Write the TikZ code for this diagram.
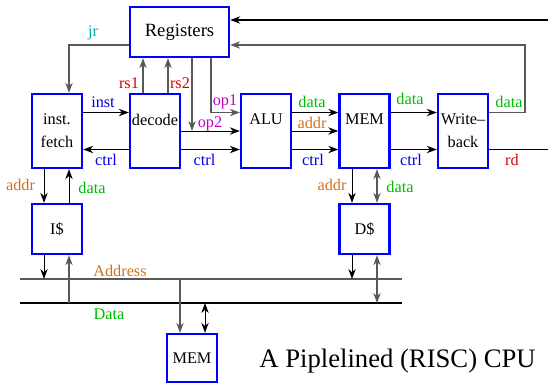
\documentclass[tikz,border=0pt]{standalone}
\usepackage{fontspec}
\setmainfont{Liberation Serif}
\usetikzlibrary{arrows.meta}
\definecolor{jrcyan}{RGB}{0,175,175}
\definecolor{regred}{RGB}{220,0,0}
\definecolor{opmag}{RGB}{190,0,190}
\definecolor{ctlblue}{RGB}{0,0,240}
\definecolor{datgreen}{RGB}{0,185,0}
\definecolor{adrorange}{RGB}{205,115,30}
\begin{document}
\begin{tikzpicture}[x=0.75pt,y=-0.75pt,
  box/.style={draw=blue,line width=1.8pt,inner sep=0pt,align=center,
    font=\fontsize{12.2}{17.25}\selectfont},
  stage/.style={box,minimum width=37.5pt,minimum height=55.5pt},
  cache/.style={box,minimum width=37.5pt,minimum height=37.5pt},
  lnk/.style={line width=0.75pt},
  arr/.style={lnk,-{Stealth[length=7.5pt,width=5.5pt]}},
  both/.style={lnk,{Stealth[length=7.5pt,width=5.5pt]}-{Stealth[length=7.5pt,width=5.5pt]}},
  dim/.style={draw=black!65,line width=1pt},
  lbl/.style={font=\fontsize{12.2}{14}\selectfont,inner sep=0pt}]
  \useasboundingbox (0,0) rectangle (548,383);
  \node[box,minimum width=74.25pt,minimum height=37.5pt,font=\fontsize{14}{16}\selectfont] (regs) at (179.5,32) {Registers};
  \node[stage] (fetch) at (57,131) {inst.\\fetch};
  \node[stage] (decode) at (155,131) {decode\\\mbox{}};
  \node[stage] (alu) at (266,131) {ALU\\\mbox{}};
  \node[stage] (mem) at (364.5,131) {MEM\\\mbox{}};
  \node[stage] (wb) at (463,131) {Write--\\back};
  \node[cache] (icache) at (57,229) {I\$};
  \node[cache] (dcache) at (364.5,229) {D\$};
  \node[box,minimum width=37.5pt,minimum height=36pt] (mainmem) at (192,358) {MEM};
  \node[font=\fontsize{20}{24}\selectfont,anchor=base] (title) at (397.5,367) {A Piplelined (RISC) CPU};

  \coordinate (topin) at (548,20);
  \coordinate (loop) at (525,45);
  \coordinate (rdout) at (548,149.5);
  \coordinate (addrL) at (20,279);
  \coordinate (addrR) at (402,279);
  \coordinate (dataL) at (20,303);
  \coordinate (dataR) at (402,303);
  \coordinate (rs1) at ([shift={(-12,0)}]decode.north);
  \coordinate (rs2) at ([shift={(13,0)}]decode.north);
  \coordinate (op1) at ([shift={(31.5,0)}]regs.south);
  \coordinate (op2) at ([shift={(12.5,0)}]regs.south);
  \coordinate (ia) at ([shift={(-13,0)}]icache.south);
  \coordinate (id) at ([shift={(12,0)}]icache.south);
  \coordinate (da) at ([shift={(-12.5,0)}]dcache.south);
  \coordinate (dd) at ([shift={(12.5,0)}]dcache.south);
  \coordinate (ma) at ([shift={(-12,0)}]mainmem.north);
  \coordinate (md) at ([shift={(13,0)}]mainmem.north);

  \draw[lnk,dim,line width=1.3pt] (addrL) -- (addrR);
  \draw[lnk,line width=1pt] (dataL) -- (dataR);

  \draw[arr,line width=1pt] (topin) -- (regs.east |- topin);
  \draw[arr,dim] ([shift={(0,-18.5)}]wb.east) -| (loop) -- (regs.east |- loop);
  \draw[lnk] ([shift={(0,18.5)}]wb.east) -- (rdout);
  \draw[arr,dim] ([shift={(0,13)}]regs.west) -| ([shift={(12,0)}]fetch.north);
  \draw[arr,dim] (rs1) -- (rs1 |- regs.south);
  \draw[arr,dim] (rs2) -- (rs2 |- regs.south);
  \draw[arr,dim] (op1) |- ([shift={(0,-18.5)}]alu.west);
  \draw[arr,dim] (op2) -- (op2 |- decode.east);

  \draw[arr] ([shift={(0,-18.5)}]fetch.east) -- ([shift={(0,-18.5)}]decode.west);
  \draw[arr] ([shift={(0,18.5)}]decode.west) -- ([shift={(0,18.5)}]fetch.east);
  \draw[arr] (decode.east) -- (alu.west);
  \draw[arr] ([shift={(0,18.5)}]decode.east) -- ([shift={(0,18.5)}]alu.west);
  \foreach \dy in {-18.5,0,18.5}
    \draw[arr] ([shift={(0,\dy)}]alu.east) -- ([shift={(0,\dy)}]mem.west);
  \foreach \dy in {-18.5,18.5}
    \draw[arr] ([shift={(0,\dy)}]mem.east) -- ([shift={(0,\dy)}]wb.west);

  \draw[arr] ([shift={(-13,0)}]fetch.south) -- ([shift={(-13,0)}]icache.north);
  \draw[arr] ([shift={(12,0)}]icache.north) -- ([shift={(12,0)}]fetch.south);
  \draw[arr] (ia) -- (ia |- addrL);
  \draw[arr,dim] (id |- dataL) -- (id);
  \draw[arr] ([shift={(-12.5,0)}]mem.south) -- ([shift={(-12.5,0)}]dcache.north);
  \draw[both,dim] ([shift={(12.5,0)}]mem.south) -- ([shift={(12.5,0)}]dcache.north);
  \draw[arr] (da) -- (da |- addrL);
  \draw[both,dim] (dd) -- (dd |- dataL);
  \draw[arr,dim] (ma |- addrL) -- (ma);
  \draw[both] (md |- dataL) -- (md);

  \node[lbl,text=jrcyan] (jrlbl) at (93,33) {jr};
  \node[lbl,text=regred] (rs1lbl) at (129,83) {rs1};
  \node[lbl,text=regred] (rs2lbl) at (180,83) {rs2};
  \node[lbl,text=opmag] (op1lbl) at (225,102) {op1};
  \node[lbl,text=opmag] (op2lbl) at (210,124) {op2};
  \node[lbl,text=ctlblue] (instlbl) at (103,102) {inst};
  \node[lbl,text=ctlblue] (ctrla) at (106,160) {ctrl};
  \node[lbl,text=ctlblue] (ctrlb) at (204.5,160) {ctrl};
  \node[lbl,text=ctlblue] (ctrlc) at (313,160) {ctrl};
  \node[lbl,text=ctlblue] (ctrld) at (411,160) {ctrl};
  \node[lbl,text=datgreen] (dataa) at (312,102) {data};
  \node[lbl,text=adrorange] (addra) at (312,123) {addr};
  \node[lbl,text=datgreen] (datab) at (410,99) {data};
  \node[lbl,text=datgreen] (datac) at (509,102) {data};
  \node[lbl,text=regred] (rdlbl) at (512,160) {rd};
  \node[lbl,text=adrorange] (addrb) at (20.5,185) {addr};
  \node[lbl,text=datgreen] (datad) at (92,188) {data};
  \node[lbl,text=adrorange] (addrc) at (332,185) {addr};
  \node[lbl,text=datgreen] (datae) at (400,187) {data};
  \node[lbl,text=adrorange] (buslbla) at (120,271) {Address};
  \node[lbl,text=datgreen] (buslblb) at (109,314) {Data};
\end{tikzpicture}
\end{document}
